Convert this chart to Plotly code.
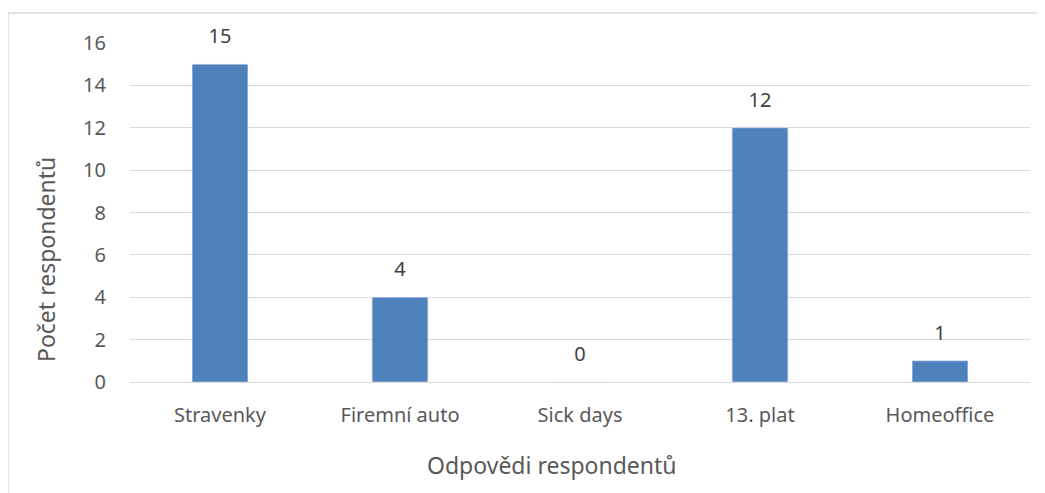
import plotly.graph_objects as go

# data
kategorie = ['Stravenky', 'Firemní auto', 'Sick days', '13. plat', 'Homeoffice']
pocty = [15, 4, 0, 12, 1]
y_ticks = [0, 2, 4, 6, 8, 10, 12, 14, 16]

font_name = 'Noto Sans, Open Sans, sans-serif'

fig = go.Figure(
    data=[
        go.Bar(
            x=kategorie,
            y=pocty,
            marker=dict(color='#4F81BD'),
            hoverinfo='skip',
        ),
        # popisky nad sloupci
        go.Scatter(
            x=kategorie,
            y=pocty,
            mode='markers+text',
            text=[str(v) for v in pocty],
            textposition='top center',
            textfont=dict(size=20, color='#404040', family=font_name),
            marker=dict(size=24, color='rgba(0,0,0,0)'),
            cliponaxis=False,
            hoverinfo='skip',
        ),
    ]
)

fig.update_layout(
    width=1045,
    height=493,
    margin=dict(l=122, r=23, t=35, b=119),
    paper_bgcolor='white',
    plot_bgcolor='white',
    bargap=0.69,
    showlegend=False,
    font=dict(family=font_name, color='#595959'),
    xaxis=dict(
        tickfont=dict(size=20, color='#595959'),
        showgrid=False,
        showline=False,
        ticks='',
        ticklabelstandoff=19,
    ),
    yaxis=dict(
        range=[0, 16],
        tickvals=y_ticks,
        tickfont=dict(size=20, color='#595959'),
        gridcolor='#D9D9D9',
        gridwidth=1,
        zeroline=True,
        zerolinecolor='#D9D9D9',
        zerolinewidth=1,
        showline=False,
        ticks='',
        ticklabelstandoff=23,
    ),
    # nazvy os - v Excelu nejsou presne na stredu
    annotations=[
        dict(
            text='Odpovědi respondentů',
            xref='paper', yref='paper',
            x=(552 - 130) / 900, y=(382 - 465) / 339,
            xanchor='center', yanchor='middle',
            showarrow=False,
            font=dict(size=23, color='#595959'),
        ),
        dict(
            text='Počet respondentů',
            xref='paper', yref='paper',
            x=(46 - 130) / 900, y=(382 - 260) / 339,
            xanchor='center', yanchor='middle',
            textangle=-90,
            showarrow=False,
            font=dict(size=23, color='#595959'),
        ),
    ],
    # ramecek kolem grafu
    shapes=[
        dict(
            type='rect',
            xref='paper', yref='paper',
            x0=(8 - 130) / 900, x1=1.05,
            y0=-0.5, y1=(382 - 13) / 339,
            line=dict(color='#D9D9D9', width=1.5),
            fillcolor='rgba(0,0,0,0)',
            layer='below',
        )
    ],
)

fig.write_html('out.html')
